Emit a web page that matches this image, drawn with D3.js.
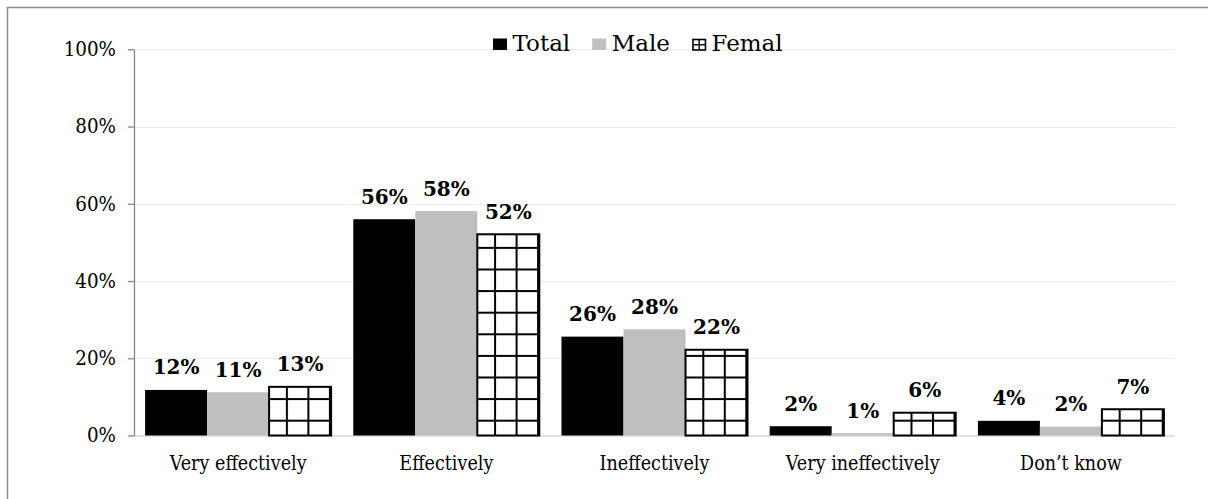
<!DOCTYPE html>
<html>
<head>
<meta charset="utf-8">
<script src="https://cdn.jsdelivr.net/npm/d3@7/dist/d3.min.js"></script>
<style>
  html, body { margin: 0; padding: 0; background: #fff; }
  svg { display: block; }
</style>
</head>
<body>
<svg id="chart" width="1208" height="499"></svg>
<script>
// Survey answers, share of respondents (%)
const categories = ["Very effectively", "Effectively", "Ineffectively", "Very ineffectively", "Don\u2019t know"];
const seriesNames = ["Total", "Male", "Femal"];
const totalValues  = [11.8, 56.0, 25.6, 2.4, 3.8];
const maleValues   = [11.2, 58.1, 27.5, 0.6, 2.3];
const femaleValues = [12.6, 52.1, 22.2, 5.9, 6.8];
const yTicks = [0, 20, 40, 60, 80, 100];

const seriesValues = [totalValues, maleValues, femaleValues];

const W = 1208, H = 499;
const plot = { left: 134, right: 1175, top: 49.3, bottom: 435.5 };
const FONT = "'DejaVu Serif', 'Liberation Serif', serif";

const svg = d3.select("#chart");

// Narrows a text element horizontally around its own anchor point
function squeeze(sel, sx) {
  sel.each(function() {
    const t = d3.select(this);
    const tx = +t.attr("x") || 0;
    const ty = +t.attr("y") || 0;
    t.attr("x", 0).attr("y", 0)
     .attr("transform", `translate(${tx},${ty}) scale(${sx},1)`);
  });
}

// Hatched (grid) fill for the third series
const defs = svg.append("defs");
const tileW = 21.5, tileH = 21.6;
const pat = defs.append("pattern")
  .attr("id", "grid")
  .attr("patternUnits", "userSpaceOnUse")
  .attr("x", 291.3).attr("y", 419.7)
  .attr("width", tileW).attr("height", tileH);
pat.append("rect").attr("width", tileW).attr("height", tileH).attr("fill", "#fff");
pat.append("rect").attr("x", 0).attr("y", 0).attr("width", 2).attr("height", tileH).attr("fill", "#000");
pat.append("rect").attr("x", 0).attr("y", 0).attr("width", tileW).attr("height", 2).attr("fill", "#000");

const fills = ["#000000", "#bfbfbf", "url(#grid)"];

// Chart frame
svg.append("rect")
  .attr("x", 7.5).attr("y", 7.5)
  .attr("width", W + 50).attr("height", H + 50)
  .attr("fill", "none")
  .attr("stroke", "#8a8a8a")
  .attr("stroke-width", 1.5);

const x = d3.scaleBand()
  .domain(categories)
  .range([plot.left, plot.right])
  .paddingInner(0.1066)
  .paddingOuter(0.0533);

const xs = d3.scaleBand()
  .domain(seriesNames)
  .range([0, x.bandwidth()])
  .padding(0);

const y = d3.scaleLinear().domain([0, 100]).range([plot.bottom, plot.top]);

// Gridlines
svg.append("g")
  .selectAll("line")
  .data(yTicks.filter(d => d > 0))
  .join("line")
  .attr("x1", plot.left).attr("x2", plot.right)
  .attr("y1", d => Math.round(y(d)) + 0.5).attr("y2", d => Math.round(y(d)) + 0.5)
  .attr("stroke", "#ebebeb")
  .attr("stroke-width", 1.2);

// Baseline
svg.append("line")
  .attr("x1", plot.left).attr("x2", plot.right)
  .attr("y1", y(0) + 0.5).attr("y2", y(0) + 0.5)
  .attr("stroke", "#d9d9d9")
  .attr("stroke-width", 1.5);

// Bars and value labels
const groups = svg.append("g")
  .selectAll("g")
  .data(categories)
  .join("g")
  .attr("transform", d => `translate(${x(d)},0)`);

groups.each(function(cat, ci) {
  const g = d3.select(this);
  seriesNames.forEach((s, si) => {
    const v = seriesValues[si][ci];
    g.append("rect")
      .attr("x", xs(s))
      .attr("y", y(v))
      .attr("width", xs.bandwidth())
      .attr("height", y(0) - y(v))
      .attr("fill", fills[si])
      .attr("stroke", si === 2 ? "#000" : "none")
      .attr("stroke-width", si === 2 ? 2 : 0);
    g.append("text")
      .attr("class", "value")
      .attr("x", xs(s) + xs.bandwidth() / 2)
      .attr("y", y(v) - 15.5)
      .attr("text-anchor", "middle")
      .attr("font-family", FONT)
      .attr("font-weight", "bold")
      .attr("font-size", 20)
      .attr("fill", "#000")
      .text(Math.round(v) + "%");
  });
});

// Y axis
const yAxis = d3.axisLeft(y)
  .tickValues(yTicks)
  .tickSize(6)
  .tickSizeOuter(0)
  .tickPadding(12)
  .tickFormat(d => d + "%");

const ya = svg.append("g")
  .attr("transform", `translate(${plot.left},0)`)
  .call(yAxis);
ya.select(".domain").attr("stroke", "#868686").attr("stroke-width", 1.3);
ya.selectAll(".tick line").attr("stroke", "#868686").attr("stroke-width", 1.3);
ya.selectAll(".tick text")
  .attr("font-family", FONT)
  .attr("font-size", 19.5)
  .attr("fill", "#000")
  .call(squeeze, 0.94);

// X axis labels
const xAxis = d3.axisBottom(x).tickSize(0).tickPadding(0);
const xa = svg.append("g")
  .attr("transform", `translate(0,${plot.bottom})`)
  .call(xAxis);
xa.select(".domain").remove();
xa.selectAll(".tick text")
  .attr("dy", null)
  .attr("y", 34.5)
  .attr("font-family", FONT)
  .attr("font-size", 19.5)
  .attr("fill", "#000")
  .call(squeeze, 0.9);

// Legend
const legend = svg.append("g").attr("transform", "translate(493,0)");
let lx = 0;
seriesNames.forEach((s, si) => {
  const item = legend.append("g").attr("transform", `translate(${lx},0)`);
  if (si < 2) {
    item.append("rect")
      .attr("x", 0).attr("y", 38.5)
      .attr("width", 14).attr("height", 11.5)
      .attr("fill", fills[si]);
  } else {
    item.append("rect")
      .attr("x", 1).attr("y", 39.5)
      .attr("width", 12.5).attr("height", 10.5)
      .attr("fill", "#fff")
      .attr("stroke", "#000")
      .attr("stroke-width", 1.6);
    item.append("line")
      .attr("x1", 1).attr("x2", 13.5)
      .attr("y1", 44.75).attr("y2", 44.75)
      .attr("stroke", "#000").attr("stroke-width", 1.4);
    item.append("line")
      .attr("x1", 7.25).attr("x2", 7.25)
      .attr("y1", 39.5).attr("y2", 50)
      .attr("stroke", "#000").attr("stroke-width", 1.4);
  }
  const t = item.append("text")
    .attr("x", 19.5)
    .attr("y", 50.5)
    .attr("font-family", FONT)
    .attr("font-size", 23)
    .attr("fill", "#000")
    .text(s);
  lx += 19.5 + t.node().getComputedTextLength() + 22;
});
</script>
</body>
</html>
